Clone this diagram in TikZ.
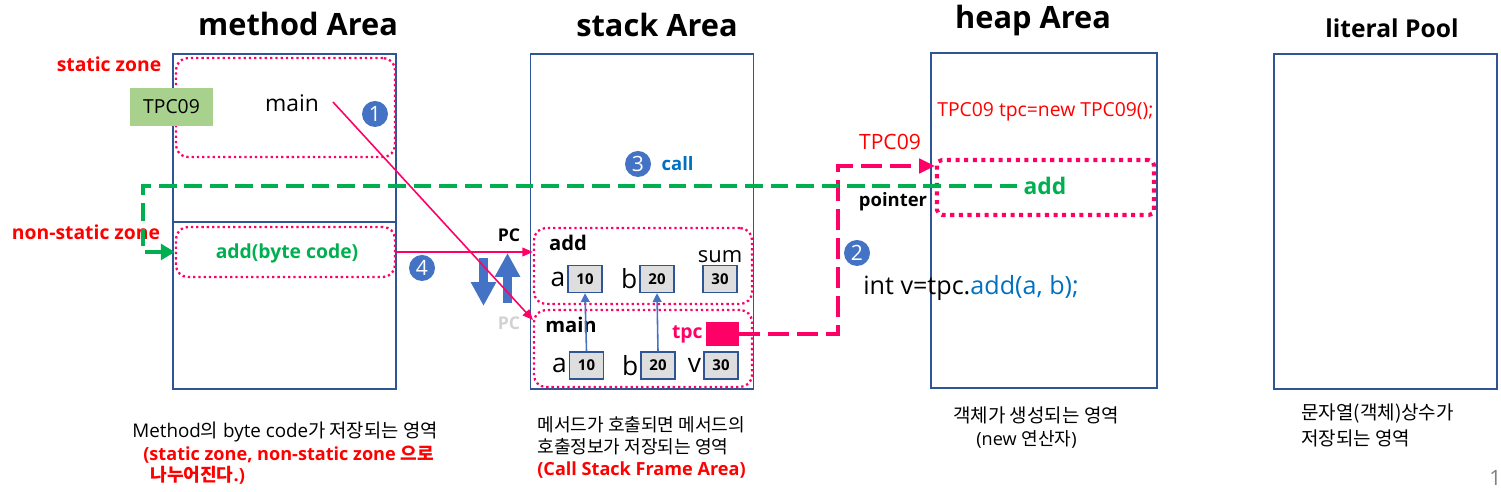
\documentclass[tikz,border=0pt]{standalone}
\usepackage{fontspec}
\setmainfont{Open Sans}
\newfontfamily\krfont{Noto Sans CJK KR}
\usetikzlibrary{arrows.meta,
                positioning}
\definecolor{areablue}{RGB}{47,85,151}
\definecolor{numblue}{RGB}{68,114,196}
\definecolor{zonepink}{RGB}{255,0,102}
\definecolor{codegreen}{RGB}{0,176,80}
\definecolor{classgreen}{RGB}{169,209,142}
\definecolor{callblue}{RGB}{0,112,192}
\definecolor{pcgrey}{RGB}{210,210,210}

\begin{document}
\begin{tikzpicture}[x=0.2mm, y=-0.2mm,
area/.style  = {draw=areablue, line width=0.8pt, inner sep=0pt,
                minimum width=44.6mm, minimum height=67mm},
title/.style = {font=\fontsize{17.5}{20}\selectfont\bfseries},
zone/.style  = {draw=zonepink, line width=1.3pt,
                dash pattern=on 1.3pt off 1.7pt,
                rounded corners=2.4mm, inner sep=0pt},
val/.style   = {draw=areablue, line width=0.8pt, fill=black!13,
                minimum width=6.8mm, minimum height=5.4mm, inner sep=0pt,
                font=\fontsize{8.5}{10}\selectfont\bfseries},
var/.style   = {font=\fontsize{15}{17}\selectfont, inner sep=1pt},
num/.style   = {circle, fill=numblue, text=white, minimum size=5.2mm,
                inner sep=0pt, font=\fontsize{12}{14}\selectfont},
note/.style  = {font=\fontsize{10.3}{12.7}\selectfont, anchor=west,
                inner sep=0pt},
redbold/.style = {text=red, font=\fontsize{11}{13}\selectfont\bfseries},
thin link/.style = {draw=zonepink, line width=0.9pt,
                    -{Triangle[length=6pt,width=5pt]}},
up link/.style   = {draw=numblue, line width=0.9pt,
                    -{Triangle[length=5pt,width=5pt]}},
block/.style = {draw=numblue, line width=4.6pt,
                -{Triangle[length=13.6pt,width=13.6pt]}},
ptr/.style   = {draw=zonepink, line width=2.8pt,
                dash pattern=on 12pt off 4.5pt,
                -{Triangle[length=9pt,width=8pt]}},
call path/.style = {draw=codegreen, line width=2.8pt,
                    dash pattern=on 10pt off 4.5pt,
                    -{Triangle[length=8pt,width=9pt]}}
                   ]
\useasboundingbox (0,0) rectangle (1501,492);

% titles
\node[title] (mtitle) at (298,24) {method Area};
\node[title] (stitle) at (657,25) {stack Area};
\node[title] (htitle) at (1033,21) {heap Area};
\node[title, font=\fontsize{14}{17}\selectfont\bfseries] (ltitle) at (1392,28) {literal Pool};

% areas
\node[area] (mbox) at (284.5,221.5) {};
\node[area] (sbox) at (642,221.5) {};
\node[area, minimum width=45.2mm] (hbox) at (1044,220.5) {};
\node[area] (lbox) at (1385.5,221.5) {};
\coordinate (msplit) at (0,222);
\draw[areablue, line width=0.8pt] (mbox.west |- msplit) -- (mbox.east |- msplit);

% method area
\node[zone, minimum width=43.8mm, minimum height=19.8mm] (szone) at (285.5,107.5) {};
\node[zone, minimum width=43.8mm, minimum height=10mm] (nszone) at (285.5,252) {};
\node[redbold] (szlabel) at (109,64) {static zone};
\node[redbold] (nszlabel) at (86,232) {non-static zone};
\node[fill=classgreen, minimum width=16.6mm, minimum height=7.6mm,
      font=\fontsize{11}{13}\selectfont] (cls) at (171.5,107) {TPC09};
\node[font=\fontsize{13}{15}\selectfont] (mainm) at (292,103) {main};
\node[num] (n1) at (375,114) {1};
\node[text=codegreen, font=\fontsize{11}{13}\selectfont\bfseries] (addbc) at (287,253) {add(byte code)};

% stack area
\node[zone, minimum width=43.6mm, minimum height=15.2mm] (addfr) at (643,266) {};
\node[zone, minimum width=43.6mm, minimum height=15.4mm] (mainfr) at (643,348.5) {};
\node[font=\fontsize{11.5}{13}\selectfont\bfseries] (addfl) at (568,243) {add};
\node[font=\fontsize{11.5}{13}\selectfont\bfseries] (mainfl) at (571,325) {main};
\node[val, label={[var]left:a}] (va1) at (585,279) {10};
\node[val, label={[var]left:b}] (vb1) at (657,279) {20};
\node[val, label={[font=\fontsize{12.5}{14}\selectfont, inner sep=1pt]above:sum}] (vs1) at (720,279) {30};
\node[val, label={[var]left:a}] (va2) at (586.5,365.5) {10};
\node[val, label={[var]left:b}] (vb2) at (658,365.5) {20};
\node[val, label={[var]left:v}] (vv2) at (721,365.5) {30};
\draw[up link] (va2.north) -- (va1.south);
\draw[up link] (vb2.north) -- (vb1.south);
\node[fill=zonepink, minimum width=6.6mm, minimum height=4.8mm, inner sep=0pt,
      label={[text=zonepink, font=\fontsize{11}{13}\selectfont\bfseries, inner sep=1.5pt]left:tpc}] (tpcsq) at (722.5,334) {};
\node[num] (n3) at (638,164) {3};
\node[right=2mm of n3, inner sep=0pt, text=callblue,
      font=\fontsize{10.5}{12}\selectfont\bfseries] (call) {call};

% program counter
\node[font=\fontsize{10}{12}\selectfont\bfseries] (pcup) at (509,235) {PC};
\node[text=pcgrey, font=\fontsize{10}{12}\selectfont\bfseries] (pcdown) at (509,323) {PC};
\coordinate (dnfrom) at (483.5,258);
\coordinate (dnto) at (483.5,306);
\coordinate (upfrom) at (507.5,303);
\coordinate (upto) at (507.5,253);
\draw[block] (dnfrom) -- (dnto);
\draw[block] (upfrom) -- (upto);

% links into the stack
\coordinate (mainout) at (333,102);
\coordinate (mainin) at (533,320);
\draw[thin link] (mainout) -- (mainin);
\draw[thin link] (nszone.east) -- (nszone.east -| addfr.west);
\node[num] (n4) at (422,268) {4};

% heap area
\node[anchor=west, inner sep=0pt, text=red, font=\fontsize{11}{13}\selectfont] (newcode) at (937,112) {TPC09 tpc=new TPC09();};
\node[draw=zonepink, line width=2.3pt, dash pattern=on 2.3pt off 2.6pt,
      rounded corners=1mm, minimum width=43.4mm, minimum height=11mm] (objbox) at (1045.5,187.5) {};
\node[text=codegreen, font=\fontsize{13}{15}\selectfont\bfseries] (addh) at (1045,186) {add};
\node[text=red, font=\fontsize{12}{14}\selectfont] (tpclass) at (890,142) {TPC09};
\node[font=\fontsize{10.5}{12}\selectfont\bfseries] (ptrlabel) at (893,202) {pointer};
\node[num] (n2) at (857,253) {2};
\node[anchor=west, inner sep=0pt, font=\fontsize{14.3}{16}\selectfont] (callcode) at (863,288) {int v=tpc.\textcolor{callblue}{add(a, b);}};

% pointer and call paths
\coordinate (pturn) at (838,166);
\draw[ptr] (tpcsq.east) -| (pturn) -- (pturn -| objbox.west);
\coordinate (gturn) at (143,252);
\draw[call path] (addh.west) -| (gturn) -- (nszone.west);

% notes
\node[note, font=\fontsize{10.7}{12.7}\selectfont] (mnote1) at (132,432) {Method{\krfont 의} byte code{\krfont 가 저장되는 영역}};
\node[note, text=red, font=\fontsize{10.3}{12.7}\selectfont\bfseries] (mnote2) at (143,455) {(static zone, non-static zone {\krfont 으로}};
\node[note, text=red, font=\fontsize{10.3}{12.7}\selectfont\bfseries] (mnote3) at (150,475) {{\krfont 나누어진다}.)};
\node[note] (snote1) at (537,425) {\krfont 메서드가 호출되면 메서드의};
\node[note] (snote2) at (537,447) {\krfont 호출정보가 저장되는 영역};
\node[note, text=red, font=\fontsize{10.3}{12.7}\selectfont\bfseries] (snote3) at (537,470) {(Call Stack Frame Area)};
\node[note, font=\fontsize{10.8}{12.7}\selectfont] (hnote1) at (953,415) {\krfont 객체가 생성되는 영역};
\node[note] (hnote2) at (976,439) {(new {\krfont 연산자})};
\node[note, font=\fontsize{10.8}{12.7}\selectfont] (lnote1) at (1301,414) {\krfont 문자열(객체)상수가};
\node[note, font=\fontsize{10.8}{12.7}\selectfont] (lnote2) at (1301,438) {\krfont 저장되는 영역};
\node[note, text=gray, font=\fontsize{12}{14}\selectfont] (pageno) at (1489,478) {17};

\end{tikzpicture}
\end{document}
